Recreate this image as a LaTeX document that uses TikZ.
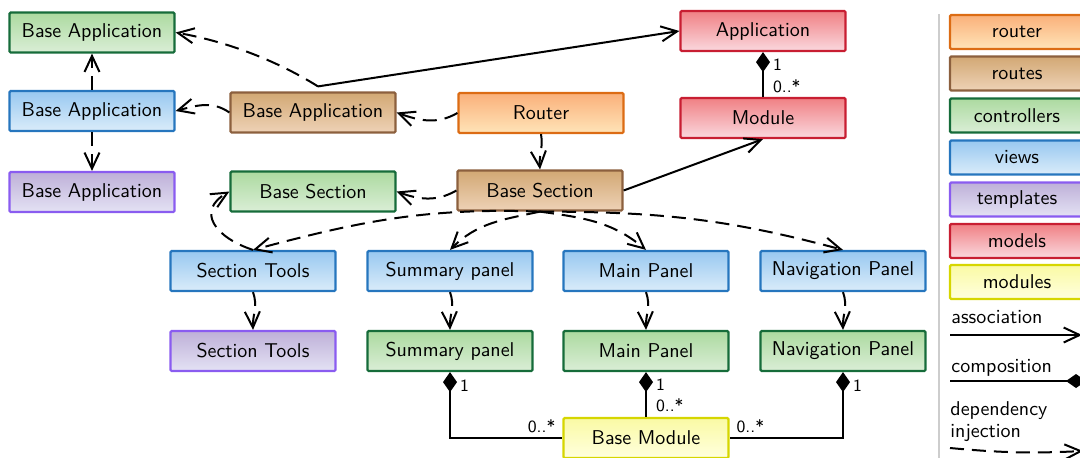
\documentclass[tikz,border=0pt]{standalone}
\usetikzlibrary{arrows.meta}

% box fills (top / bottom) and borders per layer
\definecolor{ctrlD}{RGB}{22,108,58}
\definecolor{ctrlT}{RGB}{172,218,160}
\definecolor{ctrlB}{RGB}{218,238,214}
\definecolor{viewD}{RGB}{38,118,190}
\definecolor{viewT}{RGB}{152,200,240}
\definecolor{viewB}{RGB}{218,236,250}
\definecolor{tmplD}{RGB}{138,92,240}
\definecolor{tmplT}{RGB}{190,176,216}
\definecolor{tmplB}{RGB}{228,226,244}
\definecolor{routD}{RGB}{140,96,62}
\definecolor{routT}{RGB}{210,168,116}
\definecolor{routB}{RGB}{238,210,182}
\definecolor{rtrD}{RGB}{220,108,20}
\definecolor{rtrT}{RGB}{250,176,122}
\definecolor{rtrB}{RGB}{255,228,184}
\definecolor{modD}{RGB}{200,30,50}
\definecolor{modT}{RGB}{240,128,132}
\definecolor{modB}{RGB}{250,216,222}
\definecolor{bmD}{RGB}{214,214,0}
\definecolor{bmT}{RGB}{250,250,164}
\definecolor{bmB}{RGB}{255,255,222}
\definecolor{sepline}{RGB}{205,205,205}

\tikzset{
  box/.style={draw, line width=1.1pt, rounded corners=0.6pt, minimum width=82.5pt,
    minimum height=20pt, inner sep=0pt, font=\sffamily},
  ctrl/.style={box, draw=ctrlD, top color=ctrlT, bottom color=ctrlB},
  view/.style={box, draw=viewD, top color=viewT, bottom color=viewB},
  tmpl/.style={box, draw=tmplD, top color=tmplT, bottom color=tmplB},
  rout/.style={box, draw=routD, top color=routT, bottom color=routB},
  rtr/.style={box, draw=rtrD, top color=rtrT, bottom color=rtrB},
  mdl/.style={box, draw=modD, top color=modT, bottom color=modB},
  bmod/.style={box, draw=bmD, top color=bmT, bottom color=bmB},
  legbox/.style={minimum width=67pt, minimum height=17pt},
  assoc/.style={-{Straight Barb[length=8pt,width=7.5pt]}, line width=1pt},
  dep/.style={assoc, dash pattern=on 7pt off 4pt},
  comp/.style={{Diamond[length=10pt,width=7pt]}-, line width=1pt},
  mult/.style={font=\sffamily\fontsize{8.6}{10}\selectfont, inner sep=1pt},
  legtext/.style={font=\sffamily, inner sep=0pt}
}

\begin{document}
\begin{tikzpicture}[x=0.5pt,y=0.5pt]
\useasboundingbox (0,0) rectangle (1080,-457);

% application level
\node[ctrl] (appC) at (92,-32.5) {Base Application};
\node[view] (appV) at (92,-111) {Base Application};
\node[tmpl] (appT) at (92,-192) {Base Application};
\node[rout] (appR) at (313,-112.5) {Base Application};
\node[rtr]  (router) at (541,-113) {Router};
\node[rout] (secR) at (540,-190.5) {Base Section};
\node[ctrl] (secC) at (313,-191.5) {Base Section};
\node[mdl]  (app) at (763,-31) {Application};
\node[mdl]  (module) at (763,-118) {Module};

% section level
\node[view] (toolsV) at (253,-271) {Section Tools};
\node[tmpl] (toolsT) at (253,-351) {Section Tools};
\node[view] (sumV) at (450,-271) {Summary panel};
\node[ctrl] (sumC) at (450,-351) {Summary panel};
\node[view] (mainV) at (646,-271) {Main Panel};
\node[ctrl] (mainC) at (646,-351) {Main Panel};
\node[view] (navV) at (843,-271) {Navigation Panel};
\node[ctrl] (navC) at (843,-351) {Navigation Panel};
\node[bmod] (bm) at (646,-438) {Base Module};

% dependency injection
\coordinate (appRtop) at ([xshift=2.5pt,yshift=2.5pt]appR.north);
\draw[dep] (appRtop) to[out=148,in=-10,looseness=0.85] (appC.east);
\draw[dep] (appR.west) to[out=145,in=15] (appV.east);
\draw[dep] (appV.north) -- (appC.south);
\draw[dep] (appV.south) -- (appT.north);
\draw[dep] (router.west) to[out=210,in=-20] (appR.east);
\draw[dep] (router.south) to[out=-80,in=95] (secR.north);
\draw[dep] (secR.west) to[out=210,in=-20] (secC.east);
\draw[dep] (secR.south) to[out=178,in=15] (toolsV.north);
\draw[dep] (secR.south) to[out=192,in=45] (sumV.north);
\draw[dep] (secR.south) to[out=-8,in=140] (mainV.north);
\draw[dep] (secR.south) to[out=0,in=165] (navV.north);
\draw[dep] (toolsV.north) to[out=162,in=210,looseness=1.6] (secC.west);
\draw[dep] (toolsV.south) to[out=-70,in=92] (toolsT.north);
\draw[dep] (sumV.south) to[out=-70,in=92] (sumC.north);
\draw[dep] (mainV.south) to[out=-70,in=92] (mainC.north);
\draw[dep] (navV.south) to[out=-70,in=92] (navC.north);

% associations
\draw[assoc] (appRtop) -- (app.west);
\draw[assoc] (secR.east) -- (module.south);

% compositions
\draw[comp] (app.south) -- (module.north)
  node[mult, right=3.5pt, pos=0.28] {1} node[mult, right=3.5pt, pos=0.77] {0..*};
\draw[comp] (mainC.south) -- (bm.north)
  node[mult, right=3.5pt, pos=0.28] {1} node[mult, right=3.5pt, pos=0.73] {0..*};
\draw[comp] (sumC.south) |- (bm.west)
  node[mult, right=3.5pt, pos=0.1] {1}
  node[mult, anchor=south east, xshift=-2pt, yshift=1pt, pos=1] {0..*};
\draw[comp] (navC.south) |- (bm.east)
  node[mult, right=3.5pt, pos=0.1] {1}
  node[mult, anchor=south west, xshift=2pt, yshift=1pt, pos=1] {0..*};

% legend
\draw[sepline, line width=1.2pt] (939,-14) -- (939,-460);
\node[rtr, legbox]  (lRouter) at (1017,-32) {router};
\node[rout, legbox] (lRoutes) at (1017,-73.5) {routes};
\node[ctrl, legbox] (lCtrl) at (1017,-115.5) {controllers};
\node[view, legbox] (lView) at (1017,-157.5) {views};
\node[tmpl, legbox] (lTmpl) at (1017,-199.5) {templates};
\node[mdl, legbox]  (lModel) at (1017,-241) {models};
\node[bmod, legbox] (lMod) at (1017,-282) {modules};

\node[legtext, anchor=base west] (lAssocT) at (951,-323) {association};
\coordinate (lA1) at (950,-335);
\coordinate (lA2) at (1082,-335);
\draw[assoc] (lA1) -- (lA2);

\node[legtext, anchor=base west] (lCompT) at (951,-372) {composition};
\coordinate (lC1) at (950,-381);
\coordinate (lC2) at (1086,-381);
\draw[comp] (lC2) -- (lC1);

\node[legtext, anchor=base west] (lDepT1) at (950,-415) {dependency};
\node[legtext, anchor=base west] (lDepT2) at (950,-437) {injection};
\coordinate (lD1) at (950,-448);
\coordinate (lD2) at (1083,-451);
\draw[dep] (lD1) to[bend right=4] (lD2);
\end{tikzpicture}
\end{document}
